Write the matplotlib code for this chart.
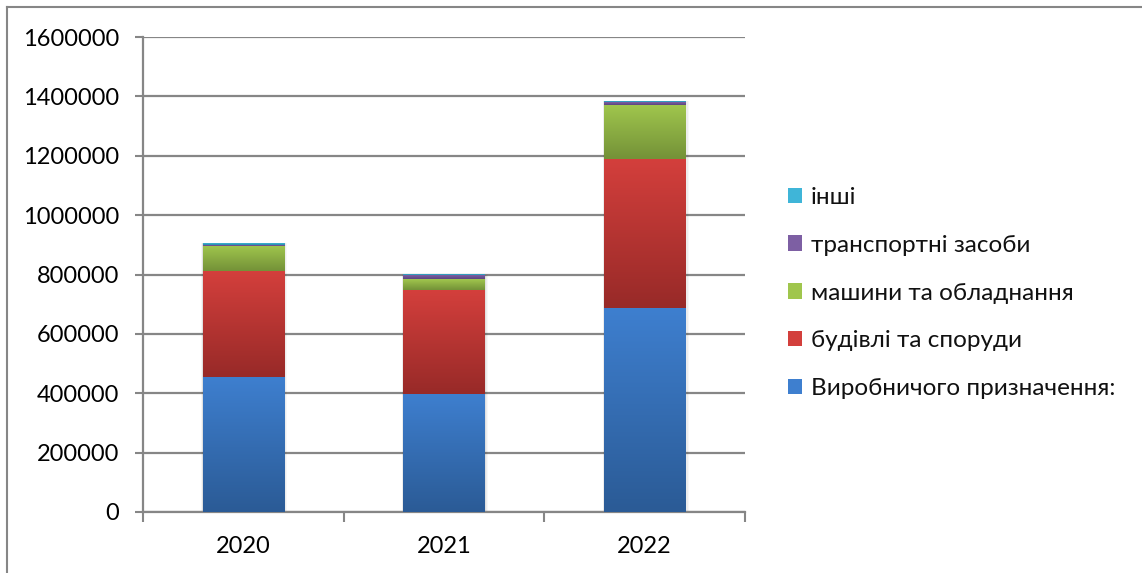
import matplotlib
matplotlib.use("Agg")
import matplotlib.pyplot as plt
import numpy as np
from matplotlib.colors import LinearSegmentedColormap
from matplotlib.patches import Rectangle

years = ["2020", "2021", "2022"]
series_names = [
    "Виробничого призначення:",
    "будівлі та споруди",
    "машини та обладнання",
    "транспортні засоби",
    "інші",
]
production = [455000, 399000, 688000]
buildings = [356000, 348000, 501000]
machines = [86000, 37000, 182000]
vehicles = [3000, 13000, 10000]
other = [6000, 2000, 2000]
series_values = [production, buildings, machines, vehicles, other]

# (top colour, bottom colour) for the vertical gradient of each segment
shades = [
    ("#3e7fcf", "#2b5b96"),
    ("#d33f3c", "#982a28"),
    ("#a0c64d", "#749238"),
    ("#7d5fa3", "#5b4580"),
    ("#3fb5d8", "#2887a6"),
]

plt.rcParams["font.family"] = ["Lato", "DejaVu Sans"]
plt.rcParams["text.color"] = "#111111"

fig = plt.figure(figsize=(11.42, 5.73), dpi=100)
ax = fig.add_axes([143 / 1142, 1 - 512 / 573, 602 / 1142, 475 / 573])

x = np.arange(len(years))
width = 0.405
bottoms = np.zeros(len(years))
grad = np.linspace(1, 0, 64).reshape(-1, 1)

# faint shadow to the right and below each full bar
totals = np.sum(series_values, axis=0)
for xi, tot in zip(x, totals):
    for k, a in zip([0.024, 0.016, 0.008], [0.03, 0.04, 0.05]):
        ax.add_patch(Rectangle((xi - width / 2 - k * 0.3, 0), width + k, tot + k * 60000,
                               facecolor="black", alpha=a, edgecolor="none", zorder=2))

for vals, (top, bot) in zip(series_values, shades):
    cmap = LinearSegmentedColormap.from_list("g", [bot, top])
    for xi, b, v in zip(x, bottoms, vals):
        ax.imshow(grad, cmap=cmap, aspect="auto", interpolation="bilinear",
                  extent=[xi - width / 2, xi + width / 2, b, b + v], zorder=3)
    bottoms = bottoms + np.array(vals)

ax.set_xlim(-0.5, len(years) - 0.5)
ax.set_ylim(0, 1600000)
ax.set_yticks(np.arange(0, 1600001, 200000))
ax.set_yticklabels([str(v) for v in range(0, 1600001, 200000)], fontsize=17)
ax.set_xticks(x)
ax.set_xticklabels(years, fontsize=17)
ax.set_xticks(np.arange(-0.5, len(years)), minor=True)
ax.tick_params(axis="x", which="major", length=0, pad=17)
ax.tick_params(axis="x", which="minor", length=7, width=1.5, color="#868686", direction="out")
ax.tick_params(axis="y", length=6, width=1.5, color="#868686", pad=11)
ax.grid(axis="y", color="#868686", linewidth=1.6, zorder=1)
ax.set_axisbelow(True)
for s in ["top", "right"]:
    ax.spines[s].set_visible(False)
for s in ["left", "bottom"]:
    ax.spines[s].set_color("#868686")
    ax.spines[s].set_linewidth(1.6)

handles = [Rectangle((0, 0), 1, 1, facecolor=shades[i][0], edgecolor="none")
           for i in range(len(series_names))][::-1]
fig.legend(handles, series_names[::-1], loc="center left",
           bbox_to_anchor=(766 / 1142, 1 - 293 / 573), frameon=False, fontsize=17.5,
           handlelength=0.6, handleheight=0.6, handletextpad=0.35, labelspacing=1.1)

# chart frame
fig.add_artist(plt.Line2D([6.5 / 1142, 6.5 / 1142], [0, 1 - 7 / 573], color="#868686", linewidth=1.5))
fig.add_artist(plt.Line2D([6.5 / 1142, 1], [1 - 7 / 573, 1 - 7 / 573], color="#868686", linewidth=1.5))

fig.savefig("out.png", dpi=100)
